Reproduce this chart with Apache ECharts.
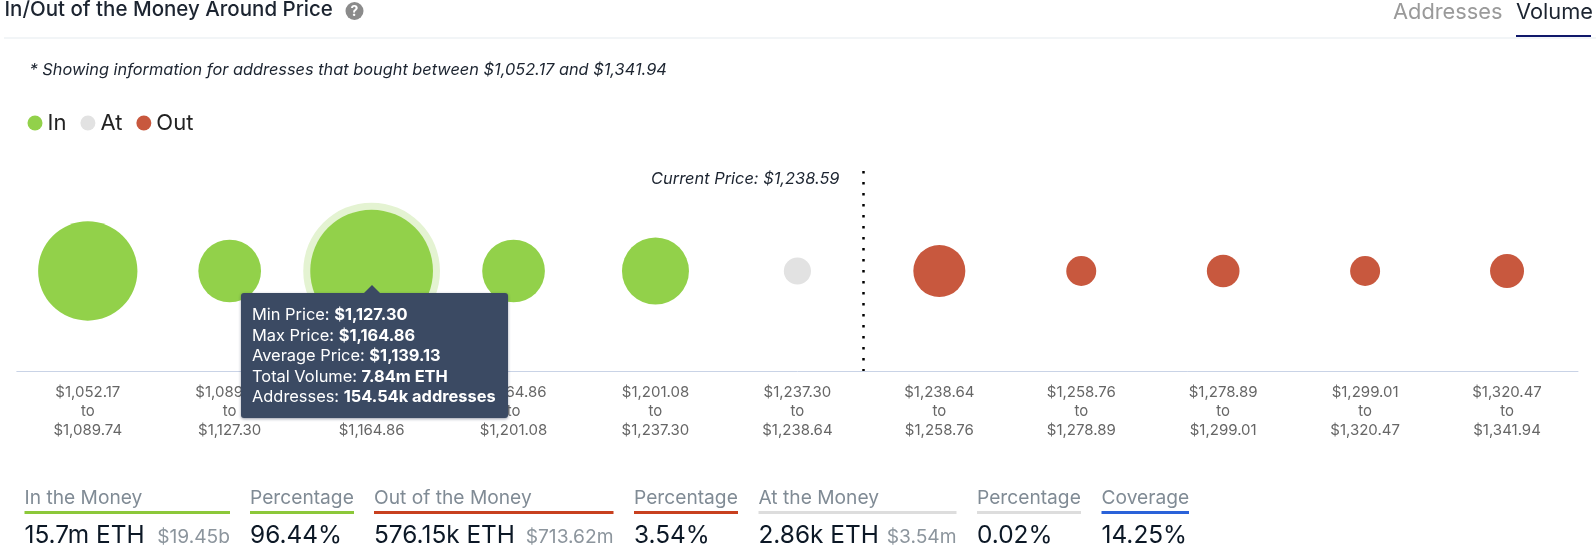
<!DOCTYPE html>
<html>
<head>
<meta charset="utf-8">
<title>In/Out of the Money Around Price</title>
<script src="https://cdn.jsdelivr.net/npm/echarts@6/dist/echarts.min.js"></script>
<style>
  html, body { margin: 0; padding: 0; background: #fff; }
  #chart { width: 1596px; height: 557px; }
</style>
</head>
<body>
<div id="chart"></div>
<script>
const rangeLow = ["$1,052.17", "$1,089.74", "$1,127.30", "$1,164.86", "$1,201.08", "$1,237.30", "$1,238.64", "$1,258.76", "$1,278.89", "$1,299.01", "$1,320.47"];
const rangeHigh = ["$1,089.74", "$1,127.30", "$1,164.86", "$1,201.08", "$1,237.30", "$1,238.64", "$1,258.76", "$1,278.89", "$1,299.01", "$1,320.47", "$1,341.94"];
// volume per bucket, million ETH
const inVolumes = [4.52, 1.155, 7.84, 1.155, 1.436];
const atVolumes = [0.00286];
const outVolumes = [0.589, 0.0182, 0.0452, 0.0182, 0.0625];
const currentPrice = 1238.59;
const currentBucketLow = 1237.3;
const currentBucketHigh = 1238.64;
const currentBucketIndex = 5;

const tipAveragePrice = "$1,139.13";
const tipVolume = "7.84m ETH";
const tipAddresses = "154.54k addresses";
const tipIndex = 2;

const statLabels = ["In the Money", "Percentage", "Out of the Money", "Percentage", "At the Money", "Percentage", "Coverage"];
const statValues = ["15.7m ETH", "96.44%", "576.15k ETH", "3.54%", "2.86k ETH", "0.02%", "14.25%"];
const statUsd = ["$19.45b", "", "$713.62m", "", "$3.54m", "", ""];

const FONT = "Inter, sans-serif";
const GREEN = "#92d14a";
const GREY = "#e2e2e2";
const RED = "#c8583e";

// bubble diameter from volume
function bubbleSize(val) {
  return 25.3 + 34.8 * Math.sqrt(val[2]);
}

const categories = rangeLow.map((low, i) => low + "\nto\n" + rangeHigh[i]);
const inData = inVolumes.map((v, i) => [i, 1, v]);
const atData = atVolumes.map((v, i) => [inVolumes.length + i, 1, v]);
const outData = outVolumes.map((v, i) => [inVolumes.length + atVolumes.length + i, 1, v]);

// where the current price falls inside its bucket
const currentPos =
  currentBucketIndex +
  (currentPrice - currentBucketLow) / (currentBucketHigh - currentBucketLow);

function label(x, y, text, font, fill, align) {
  return {
    type: "text",
    silent: true,
    style: { x, y, text, font, fill, textAlign: align || "left", textVerticalAlign: "middle" },
  };
}

// stat columns: left edge, right edge, underline colour
const statColumns = [
  [24.5, 230, "#8cc83a"],
  [250, 354, "#8cc83a"],
  [374, 613.5, "#c8401f"],
  [634, 738, "#c8401f"],
  [758.5, 956.5, "#dddddd"],
  [977, 1081, "#dddddd"],
  [1101.5, 1189, "#2a62d9"],
];

function statGraphics() {
  const out = [];
  statColumns.forEach(([x0, x1, lineColor], i) => {
    out.push(label(x0, 498.5, statLabels[i], "400 19.2px " + FONT, "#808b95"));
    out.push({
      type: "rect",
      silent: true,
      shape: { x: x0, y: 511, width: x1 - x0, height: 3 },
      style: { fill: lineColor },
    });
    out.push(label(x0, 536, statValues[i], "400 24.4px " + FONT, "#0c1826"));
    if (statUsd[i]) {
      out.push(label(x1, 537, statUsd[i], "400 19.2px " + FONT, "#8c959d", "right"));
    }
  });
  return out;
}

const option = {
  animation: false,
  textStyle: { fontFamily: FONT },
  grid: { left: 16.8, right: 18, top: 171, height: 200 },
  legend: {
    data: ["In", "At", "Out"],
    left: 22.5,
    top: 107,
    icon: "circle",
    itemWidth: 15,
    itemHeight: 15,
    itemGap: 14,
    selectedMode: false,
    textStyle: { fontFamily: FONT, fontSize: 22, color: "#222" },
  },
  tooltip: {
    trigger: "item",
    triggerOn: "none",
    alwaysShowContent: true,
    transitionDuration: 0,
    backgroundColor: "#3b4a63",
    borderWidth: 0,
    borderRadius: 3,
    padding: [11, 12, 11, 11],
    extraCssText: "box-shadow:0 1px 3px rgba(30,40,70,.45);",
    textStyle: { color: "#fff", fontFamily: FONT, fontSize: 16.4 },
    position: [241, 293],
    formatter() {
      const rows = [
        ["Min Price", rangeLow[tipIndex]],
        ["Max Price", rangeHigh[tipIndex]],
        ["Average Price", tipAveragePrice],
        ["Total Volume", tipVolume],
        ["Addresses", tipAddresses],
      ];
      const arrow =
        '<div style="position:absolute;left:123px;top:-8px;width:0;height:0;' +
        "border-left:8.5px solid transparent;border-right:8.5px solid transparent;" +
        'border-bottom:8px solid #3b4a63;"></div>';
      return (
        arrow +
        rows
          .map((r) => `<div style="line-height:20.5px;">${r[0]}: <b>${r[1]}</b></div>`)
          .join("")
      );
    },
  },
  xAxis: [
    {
      type: "category",
      data: categories,
      axisTick: { show: false },
      axisLine: { lineStyle: { color: "#c9d3e6", width: 1 } },
      axisLabel: { interval: 0, color: "#666", fontSize: 15, lineHeight: 19, margin: 12, fontFamily: FONT },
      splitLine: { show: false },
    },
    // hidden scale, only places the current price line
    { type: "value", min: 0, max: categories.length, show: false },
  ],
  yAxis: { type: "value", min: 0, max: 2, show: false },
  series: [
    {
      name: "In",
      type: "scatter",
      data: inData,
      symbolSize: bubbleSize,
      itemStyle: { color: GREEN, opacity: 1 },
      z: 3,
    },
    { name: "At", type: "scatter", data: atData, symbolSize: bubbleSize, itemStyle: { color: GREY, opacity: 1 }, z: 3 },
    { name: "Out", type: "scatter", data: outData, symbolSize: bubbleSize, itemStyle: { color: RED, opacity: 1 }, z: 3 },
    {
      // highlight ring of the hovered bubble
      name: "halo",
      type: "scatter",
      silent: true,
      data: [inData[tipIndex]],
      symbolSize: (val) => bubbleSize(val) + 14,
      itemStyle: { color: "#e4f3d2", opacity: 1 },
      z: 2,
    },
    {
      name: "Current Price",
      type: "scatter",
      xAxisIndex: 1,
      data: [],
      markLine: {
        silent: true,
        symbol: "none",
        label: { show: false },
        lineStyle: { color: "#000", width: 2.5, type: [2.5, 8.5], opacity: 1 },
        data: [[{ xAxis: currentPos, yAxis: 2 }, { xAxis: currentPos, yAxis: 0 }]],
      },
    },
  ],
  graphic: [
    label(4.5, 9.5, "In/Out of the Money Around Price", "500 20.5px " + FONT, "#1c2430"),
    { type: "circle", silent: true, shape: { cx: 354.5, cy: 11, r: 9 }, style: { fill: "#8b8b8b" } },
    label(354.5, 11.5, "?", "700 14px " + FONT, "#fff", "center"),
    label(1393, 12, "Addresses", "400 21.8px " + FONT, "#9a9a9a"),
    label(1516, 12, "Volume", "400 21.8px " + FONT, "#1c2430"),
    { type: "rect", silent: true, shape: { x: 4, y: 37.5, width: 1592, height: 1 }, style: { fill: "#e6ebf0" } },
    { type: "rect", silent: true, shape: { x: 1516, y: 35, width: 75, height: 2 }, style: { fill: "#10186a" } },
    label(
      29.5,
      70,
      "* Showing information for addresses that bought between $1,052.17 and $1,341.94",
      "italic 400 16.35px " + FONT,
      "#1c2430"
    ),
    label(839.5, 179, "Current Price: $" + currentPrice.toLocaleString("en-US"), "italic 400 16.4px " + FONT, "#1c2430", "right"),
    ...statGraphics(),
  ],
};

const chart = echarts.init(document.getElementById("chart"), null, { renderer: "canvas" });
chart.setOption(option);
chart.dispatchAction({ type: "showTip", seriesIndex: 0, dataIndex: tipIndex });
</script>
</body>
</html>
